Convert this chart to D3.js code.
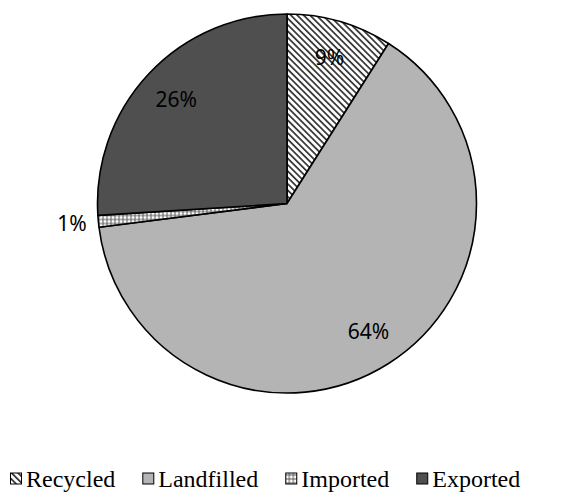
<!DOCTYPE html>
<html>
<head>
<meta charset="utf-8">
<script src="https://cdn.jsdelivr.net/npm/d3@7"></script>
<style>
  body { margin: 0; background: #fff; }
  svg { display: block; }
  .legend text { font-family: "Liberation Serif", "Tinos", "Times New Roman", "DejaVu Serif", serif; }
</style>
</head>
<body>
<svg id="chart" width="578" height="492"></svg>
<script>
// chart data
var categories = ['Recycled', 'Landfilled', 'Imported', 'Exported']
var shares = [9, 64, 1, 26]
var labels = ['9%', '64%', '1%', '26%']

var width = 578
var height = 492
var cx = 287
var cy = 203.5
var radius = 189.5

var svg = d3.select('#chart')
var defs = svg.append('defs')

// diagonal hatch for Recycled
var hatch = defs.append('pattern')
    .attr('id', 'hatch')
    .attr('patternUnits', 'userSpaceOnUse')
    .attr('width', 4.5)
    .attr('height', 4.5)
    .attr('patternTransform', 'rotate(-45)')
hatch.append('rect').attr('width', 4.5).attr('height', 4.5).attr('fill', '#fff')
hatch.append('rect').attr('x', 0).attr('width', 1.8).attr('height', 4.5).attr('fill', '#3c3c3c')

// dotted grid for Imported
var dots = defs.append('pattern')
    .attr('id', 'dots')
    .attr('patternUnits', 'userSpaceOnUse')
    .attr('width', 4)
    .attr('height', 4)
dots.append('rect').attr('width', 4).attr('height', 4).attr('fill', '#5a5a5a')
dots.append('rect').attr('x', 0.5).attr('y', 0.5).attr('width', 3).attr('height', 3).attr('fill', '#fff')

var fills = ['url(#hatch)', '#b4b4b4', 'url(#dots)', '#4f4f4f']

var pie = d3.pie().sort(null).value(function(d) { return d })
var arcs = pie(shares)
var arc = d3.arc().innerRadius(0).outerRadius(radius)
var labelArc = d3.arc().innerRadius(152).outerRadius(152)
var outerLabelArc = d3.arc().innerRadius(216).outerRadius(216)

var g = svg.append('g').attr('transform', 'translate(' + cx + ',' + cy + ')')

g.selectAll('.slice')
    .data(arcs)
    .enter()
    .append('path')
    .attr('class', 'slice')
    .attr('d', arc)
    .attr('fill', function(d, i) { return fills[i] })
    .attr('stroke', '#000')
    .attr('stroke-width', 1.6)
    .attr('stroke-linejoin', 'round')

g.selectAll('.pct')
    .data(arcs)
    .enter()
    .append('text')
    .attr('class', 'pct')
    .attr('transform', function(d, i) {
        // small slice gets its label outside
        var c = shares[i] < 3 ? outerLabelArc.centroid(d) : labelArc.centroid(d)
        return 'translate(' + c[0] + ',' + c[1] + ')'
    })
    .attr('text-anchor', 'middle')
    .attr('dy', '0.36em')
    .style('font-family', '"Noto Sans", "Open Sans", sans-serif')
    .style('font-size', '21px')
    .attr('fill', '#000')
    .text(function(d, i) { return labels[i] })

// legend
var legend = svg.append('g').attr('class', 'legend')
var lx = 10
var ly = 479
categories.forEach(function(name, i) {
    var item = legend.append('g').attr('transform', 'translate(' + lx + ',' + ly + ')')
    item.append('rect')
        .attr('x', 0.5)
        .attr('y', -6)
        .attr('width', 11)
        .attr('height', 11)
        .attr('fill', fills[i])
        .attr('stroke', '#000')
        .attr('stroke-width', 1)
    var t = item.append('text')
        .attr('x', 16)
        .attr('y', 8)
        .style('font-size', '24px')
        .attr('fill', '#000')
        .text(name)
    lx += 16 + t.node().getComputedTextLength() + 27
})
</script>
</body>
</html>
